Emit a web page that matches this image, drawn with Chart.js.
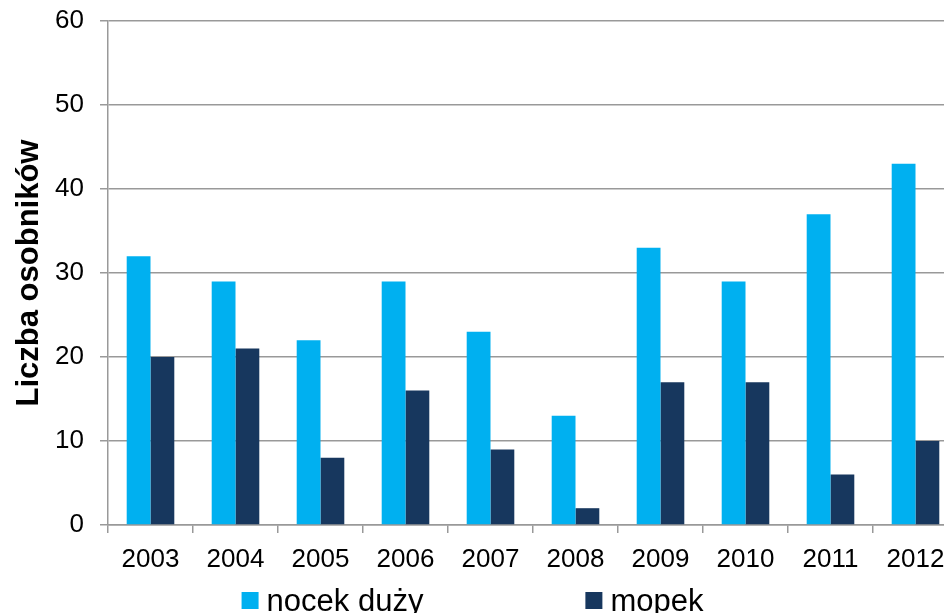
<!DOCTYPE html>
<html>
<head>
<meta charset="utf-8">
<script src="https://cdn.jsdelivr.net/npm/chart.js@4/dist/chart.umd.min.js"></script>
<style>
  html, body { margin: 0; padding: 0; background: #fff; overflow: hidden; }
  #wrap { position: relative; width: 964px; height: 613px; }
</style>
</head>
<body>
<div id="wrap"><canvas id="c"></canvas></div>
<script>
const years = ['2003','2004','2005','2006','2007','2008','2009','2010','2011','2012'];
const nocekDuzy = [32, 29, 22, 29, 23, 13, 33, 29, 37, 43];
const mopek = [20, 21, 8, 16, 9, 2, 17, 17, 6, 10];
const seriesNames = ['nocek duży', 'mopek'];
const seriesColors = ['#00B0F0', '#17375E'];
const yTitle = 'Liczba osobników';

const FONT = "'Liberation Sans', Arial, sans-serif";

const legendPlugin = {
  id: 'customLegend',
  afterDraw(chart) {
    const ctx = chart.ctx;
    const box = 17, gapText = 8, gapItems = 162;
    ctx.save();
    ctx.font = '31px ' + FONT;
    const items = chart.data.datasets.map(ds => ({
      label: ds.label, color: ds.backgroundColor, w: ctx.measureText(ds.label).width
    }));
    let total = 0;
    items.forEach((it, i) => { total += box + gapText + it.w + (i ? gapItems : 0); });
    let x = 472.5 - total / 2;
    const baseline = 611;
    items.forEach(it => {
      ctx.fillStyle = it.color;
      ctx.fillRect(x, baseline - 19, box, box);
      ctx.fillStyle = '#000';
      ctx.textBaseline = 'alphabetic';
      ctx.textAlign = 'left';
      ctx.fillText(it.label, x + box + gapText, baseline);
      x += box + gapText + it.w + gapItems;
    });
    ctx.restore();
  }
};

new Chart(document.getElementById('c'), {
  type: 'bar',
  data: {
    labels: years,
    datasets: [
      { label: seriesNames[0], data: nocekDuzy, backgroundColor: seriesColors[0],
        categoryPercentage: 0.56, barPercentage: 1.0 },
      { label: seriesNames[1], data: mopek, backgroundColor: seriesColors[1],
        categoryPercentage: 0.56, barPercentage: 1.0 }
    ]
  },
  options: {
    responsive: true,
    maintainAspectRatio: false,
    animation: false,
    layout: { padding: { top: 21, right: 6, bottom: 0, left: 0 }, autoPadding: false },
    plugins: {
      legend: { display: false },
      tooltip: { enabled: false }
    },
    scales: {
      x: {
        grid: { drawOnChartArea: false, drawTicks: true, tickLength: 8, color: '#999999', lineWidth: 1.5, offset: true },
        border: { color: '#999999', width: 1.5 },
        ticks: { color: '#000', font: { family: FONT, size: 26 }, padding: 11, maxRotation: 0 },
        afterFit(s) { s.height = 88; s.paddingLeft = 0; s.paddingRight = 0; }
      },
      y: {
        min: 0, max: 60,
        ticks: { stepSize: 10, color: '#000', font: { family: FONT, size: 26 }, padding: 16 },
        grid: { color: '#999999', lineWidth: 1.5, tickLength: 8 },
        border: { color: '#999999', width: 1.5 },
        title: { display: true, text: yTitle, color: '#000',
          font: { family: FONT, size: 31, weight: 'bold', lineHeight: 1.2 },
          padding: { top: 11, bottom: 0 } },
        afterFit(s) { s.width = 108; s.paddingTop = 0; s.paddingBottom = 0; }
      }
    }
  },
  plugins: [legendPlugin]
});
</script>
</body>
</html>
